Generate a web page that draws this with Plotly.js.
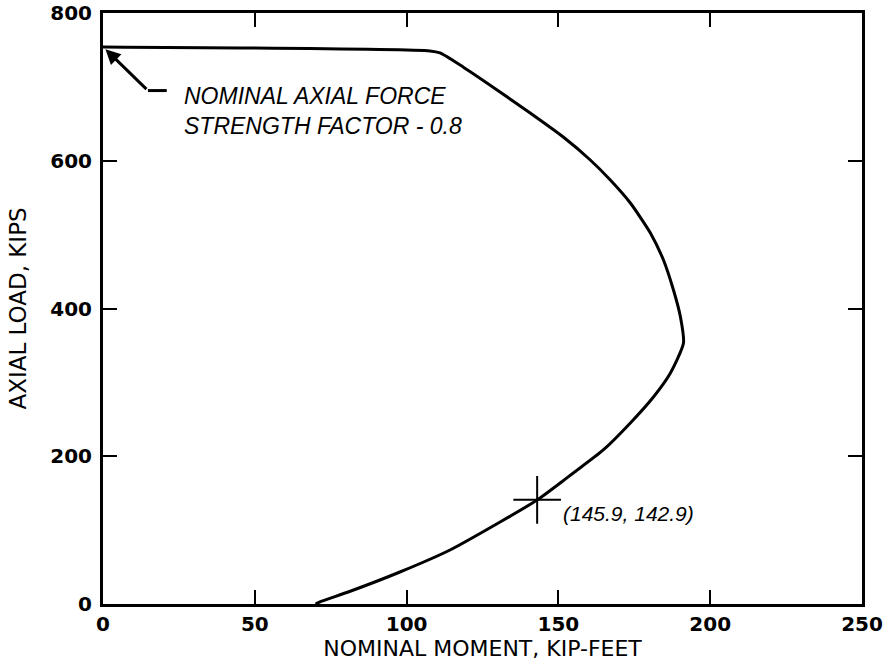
<!DOCTYPE html>
<html><head><meta charset="utf-8">
<script src="https://cdn.plot.ly/plotly-3.0.1.min.js"></script>
<style>html,body{margin:0;padding:0;background:#fff;}#plot{width:884px;height:665px;}</style>
</head><body><div id="plot"></div>
<script>
// Interaction curve: nominal moment (kip-ft) vs axial load (kips)
const moment = [0, 107.7, 111, 118.6, 129.8, 140.7, 151.6, 160.5, 167.1, 173.7, 180.3, 184.6, 187.9, 190.2, 191.2, 186.9, 181.3, 173.7, 164.8, 154.9, 150.6, 143, 130.8, 114.3, 97.8, 81.2, 71.3, 70];
const axial  = [754, 748.6, 745.9, 726.9, 695.8, 664.6, 632.1, 601, 573.9, 542.8, 502.2, 465.6, 425, 388.5, 353.3, 312.7, 280.2, 245, 208.5, 177.3, 163.8, 140.8, 111, 73.1, 43.3, 16.9, 2.7, 0];
const markX = [143];
const markY = [141];
const markLabel = "(145.9, 142.9)";
const noteText = "NOMINAL AXIAL FORCE<br>STRENGTH FACTOR - 0.8";
const xTicks = [0, 50, 100, 150, 200, 250];
const yTicks = [0, 200, 400, 600, 800];

const tickFont = {family: "DejaVu Sans", size: 20, color: "#000", weight: "bold"};
const axisCommon = {
  showline: true, linewidth: 3, linecolor: "#000", mirror: "ticks",
  ticks: "inside", ticklen: 14, tickwidth: 2, tickcolor: "#000",
  showgrid: false, zeroline: false, tickfont: tickFont
};

const traces = [
  {x: moment, y: axial, mode: "lines", line: {color: "#000", width: 3, shape: "spline", smoothing: 0.6}, hoverinfo: "skip"},
  {x: markX, y: markY, mode: "markers", marker: {symbol: "cross-thin-open", size: 34, color: "#000", line: {color: "#000", width: 2}}, hoverinfo: "skip"}
];

const layout = {
  width: 884, height: 665,
  margin: {l: 103, r: 22, t: 13, b: 61},
  paper_bgcolor: "#fff", plot_bgcolor: "#fff",
  showlegend: false,
  xaxis: Object.assign({}, axisCommon, {
    range: [0, 250], tickvals: xTicks, ticktext: xTicks.map(String),
    title: {text: "NOMINAL MOMENT, KIP-FEET", font: {family: "DejaVu Sans", size: 22, color: "#000"}, standoff: 2}
  }),
  yaxis: Object.assign({}, axisCommon, {
    range: [0, 800], tickvals: yTicks, ticktext: yTicks.map(String), ticklabelstandoff: 4,
    title: {text: "AXIAL LOAD, KIPS", font: {family: "DejaVu Sans", size: 23, color: "#000"}, standoff: 18}
  }),
  shapes: [
    {type: "line", xref: "x", yref: "y", x0: 14.8, y0: 695, x1: 21, y1: 695, line: {color: "#000", width: 3}}
  ],
  annotations: [
    {x: 0.8, y: 751, xref: "x", yref: "y", ax: 14.8, ay: 695, axref: "x", ayref: "y",
     text: "", showarrow: true, arrowhead: 2, arrowsize: 1, arrowwidth: 3, arrowcolor: "#000"},
    {x: 26, y: 668, xref: "x", yref: "y", xanchor: "left", yanchor: "middle", align: "left",
     text: "<i>" + noteText + "</i>", showarrow: false,
     font: {family: "Liberation Sans", size: 23, color: "#000"}},
    {x: 151, y: 123, xref: "x", yref: "y", xanchor: "left", yanchor: "middle",
     text: "<i>" + markLabel + "</i>", showarrow: false,
     font: {family: "Liberation Sans", size: 21, color: "#000"}}
  ]
};

Plotly.newPlot("plot", traces, layout, {staticPlot: true, displayModeBar: false});
</script>
</body></html>
